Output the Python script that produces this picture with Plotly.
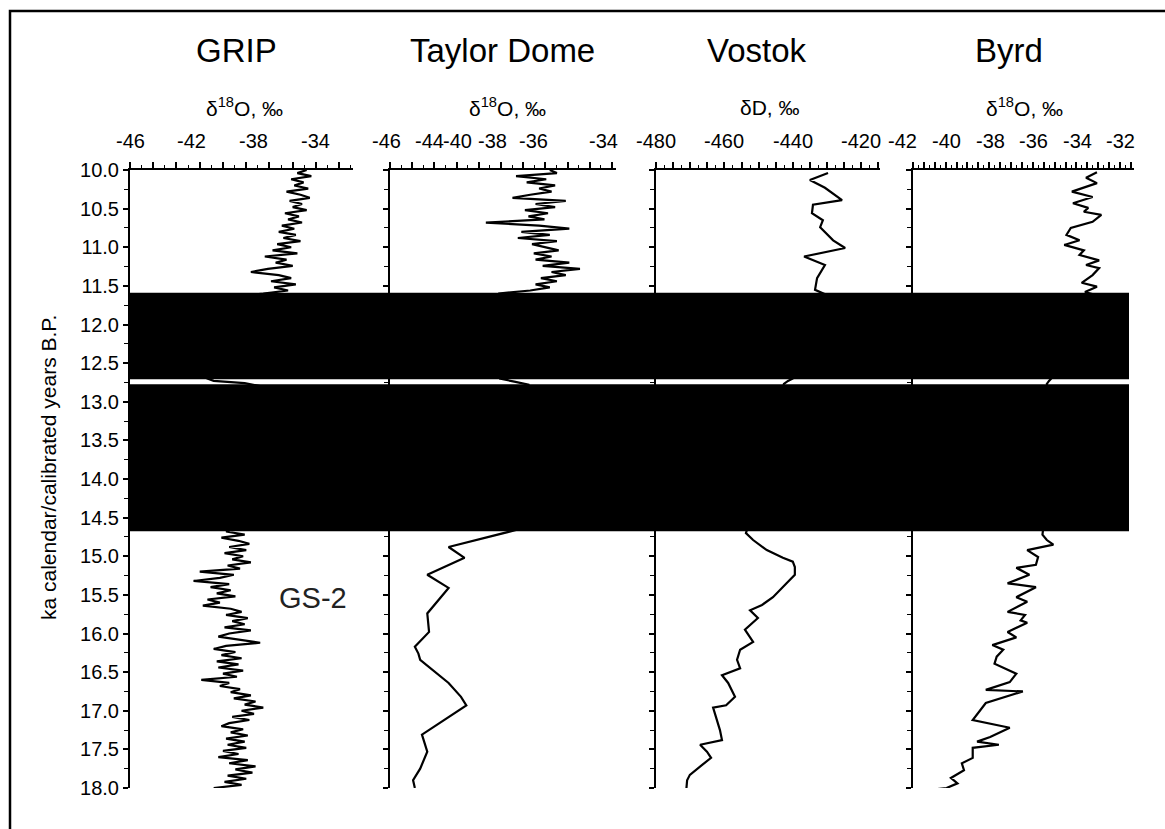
import plotly.graph_objects as go

# ---------------- data ----------------
PANELS = ["GRIP", "Taylor Dome", "Vostok", "Byrd"]
UNITS = ["δ<sup>18</sup>O, ‰", "δ<sup>18</sup>O, ‰", "δD, ‰", "δ<sup>18</sup>O, ‰"]

GRIP_AGE = [10.00, 10.04, 10.08, 10.12, 10.16, 10.20, 10.24, 10.28, 10.32, 10.36,
            10.40, 10.44, 10.48, 10.52, 10.56, 10.60, 10.64, 10.68, 10.72, 10.76,
            10.80, 10.84, 10.88, 10.92, 10.96, 11.00, 11.04, 11.08, 11.12, 11.16,
            11.20, 11.24, 11.28, 11.32, 11.36, 11.40, 11.44, 11.48, 11.52, 11.56,
            11.60,
            11.64, 11.80, 12.00, 12.20, 12.40, 12.60, 12.70, 12.73, 12.76, 12.80,
            13.20, 13.60, 14.00, 14.40, 14.64,
            14.68, 14.72, 14.76, 14.80, 14.84, 14.88, 14.92, 14.96, 15.00, 15.04,
            15.08, 15.12, 15.16, 15.20, 15.24, 15.28, 15.32, 15.36, 15.40, 15.44,
            15.48, 15.52, 15.56, 15.60, 15.64, 15.68, 15.72, 15.76, 15.80, 15.84,
            15.88, 15.92, 15.96, 16.00, 16.04, 16.08, 16.12, 16.16, 16.20, 16.24,
            16.28, 16.32, 16.36, 16.40, 16.44, 16.48, 16.52, 16.56, 16.60, 16.64,
            16.68, 16.72, 16.76, 16.80, 16.84, 16.88, 16.92, 16.96, 17.00, 17.04,
            17.08, 17.12, 17.16, 17.20, 17.24, 17.28, 17.32, 17.36, 17.40, 17.44,
            17.48, 17.52, 17.56, 17.60, 17.64, 17.68, 17.72, 17.76, 17.80, 17.84,
            17.88, 17.92, 17.96, 18.00]
GRIP_D18O = [-34.6, -35.2, -34.3, -35.6, -34.8, -35.4, -34.5, -35.9, -35.0, -34.4,
             -35.7, -34.9, -35.5, -34.6, -36.0, -35.1, -35.8, -34.9, -36.2, -35.4,
             -36.4, -35.3, -36.1, -35.0, -36.5, -35.6, -36.8, -35.2, -37.3, -35.9,
             -36.6, -35.5, -37.1, -38.2, -36.4, -35.6, -36.9, -35.3, -36.7, -35.8,
             -37.4,
             -39.5, -40.6, -40.2, -40.8, -40.3, -40.9, -41.0, -40.6, -38.6, -37.5,
             -37.8, -38.0, -38.4, -38.9, -39.3,
             -39.8, -38.6, -40.1, -39.0, -38.3, -39.6, -38.5, -39.9, -38.7, -39.4,
             -38.2, -39.7, -38.9, -41.5, -39.3, -40.2, -41.9, -39.6, -40.8, -39.5,
             -40.4, -39.2, -41.0, -40.2, -41.3, -39.5, -38.8, -39.8, -38.4, -39.4,
             -38.6, -39.9, -38.2, -39.6, -40.3, -38.9, -37.6, -39.8, -40.6, -39.2,
             -40.1, -38.8, -40.4, -39.0, -40.3, -38.7, -40.0, -39.1, -41.4, -39.6,
             -40.2, -38.9, -39.5, -38.2, -39.3, -37.9, -38.6, -37.4, -38.8, -38.0,
             -39.4, -38.3, -39.6, -40.1, -38.7, -39.5, -38.4, -39.8, -38.6, -39.7,
             -38.5, -40.0, -39.0, -40.3, -38.4, -39.6, -37.9, -39.2, -38.1, -39.7,
             -38.5, -39.9, -38.8, -40.6]

TAYLOR_AGE = [10.00, 10.04, 10.08, 10.12, 10.16, 10.20, 10.24, 10.28, 10.32, 10.36,
              10.40, 10.44, 10.48, 10.52, 10.56, 10.60, 10.64, 10.68, 10.72, 10.76,
              10.80, 10.84, 10.88, 10.92, 10.96, 11.00, 11.04, 11.08, 11.12, 11.16,
              11.20, 11.24, 11.28, 11.32, 11.36, 11.40, 11.44, 11.48, 11.52, 11.56,
              11.60,
              11.64, 12.00, 12.40, 12.70, 12.74, 12.78, 13.20, 13.80, 14.30, 14.64,
              14.66, 14.88, 15.02, 15.24, 15.41, 15.74, 15.98, 16.17, 16.26, 16.34,
              16.64, 16.82, 16.93, 17.31, 17.53, 17.75, 17.90, 18.00]
TAYLOR_D18O = [-37.0, -36.6, -38.9, -37.2, -38.3, -36.7, -37.6, -36.9, -38.1, -39.1,
               -36.1, -37.8, -36.7, -38.4, -37.1, -38.2, -37.3, -40.6, -37.6, -35.9,
               -38.6, -37.0, -38.8, -36.6, -38.0, -37.2, -36.5, -37.9, -36.9, -37.8,
               -35.9, -37.4, -35.3, -36.9, -36.1, -37.5, -36.6, -37.8, -37.0, -38.1,
               -39.9,
               -39.5, -40.0, -39.8, -39.8, -39.0, -38.2, -38.0, -38.5, -39.0, -39.6,
               -38.9, -42.7, -41.8, -43.9, -42.7, -43.9, -43.8, -44.6, -44.4, -44.3,
               -42.7, -42.0, -41.7, -44.2, -43.9, -44.3, -44.7, -44.6]

VOSTOK_AGE = [10.04, 10.13, 10.23, 10.39, 10.45, 10.56, 10.65, 10.74, 10.91, 11.01,
              11.12, 11.23, 11.40, 11.55, 11.62,
              12.00, 12.40, 12.70, 12.73, 12.77, 13.20, 13.80, 14.30,
              14.70, 14.79, 14.92, 15.02, 15.07, 15.14, 15.24, 15.33, 15.53, 15.63,
              15.70, 15.80, 15.95, 16.11, 16.21, 16.34, 16.45, 16.54, 16.64, 16.82,
              16.93, 16.96, 17.12, 17.25, 17.38, 17.44, 17.53, 17.61, 17.70, 17.83,
              17.90, 18.00]
VOSTOK_DD = [-429.7, -435.0, -430.6, -425.6, -434.1, -434.4, -431.2, -432.0, -428.2, -424.7,
             -436.7, -430.6, -432.9, -433.5, -430.0,
             -434.0, -437.5, -440.0, -441.4, -442.6, -445.0, -448.0, -451.0,
             -453.7, -451.6, -447.6, -442.9, -440.0, -439.4, -439.4, -441.4, -445.8, -449.0,
             -452.5, -450.2, -454.0, -451.6, -455.4, -456.3, -455.4, -460.7, -458.9, -456.9,
             -459.5, -463.3, -462.2, -461.3, -460.7, -467.1, -465.1, -463.9, -466.5, -470.1,
             -470.9, -471.1]

BYRD_AGE = [10.03, 10.10, 10.17, 10.28, 10.35, 10.43, 10.49, 10.54, 10.58, 10.67,
            10.75, 10.84, 10.91, 10.97, 11.04, 11.10, 11.17, 11.23, 11.27, 11.36,
            11.46, 11.51, 11.58, 11.63,
            12.00, 12.40, 12.70, 12.73, 12.77, 13.30, 14.00, 14.50,
            14.72, 14.79, 14.85, 14.92, 15.01, 15.11, 15.15, 15.24, 15.35, 15.40,
            15.53, 15.59, 15.72, 15.76, 15.83, 15.86, 15.98, 16.05, 16.15, 16.21,
            16.30, 16.39, 16.52, 16.63, 16.73, 16.75, 16.90, 17.12, 17.22, 17.34,
            17.40, 17.44, 17.48, 17.61, 17.68, 17.77, 17.87, 17.94, 18.00, 18.02]
BYRD_D18O = [-33.1, -33.6, -33.1, -34.25, -33.3, -34.2, -33.5, -33.7, -32.9, -33.3,
             -34.3, -34.5, -33.9, -34.6, -33.7, -33.9, -33.0, -33.6, -33.0, -33.3,
             -33.8, -33.1, -33.65, -33.0,
             -33.8, -34.6, -35.2, -35.3, -35.4, -35.0, -35.3, -35.5,
             -35.6, -35.4, -35.1, -36.3, -35.8, -35.9, -36.8, -36.2, -37.2, -35.9,
             -36.8, -36.3, -37.2, -36.4, -36.6, -36.3, -37.2, -36.8, -37.9, -37.4,
             -37.7, -37.8, -36.8, -37.1, -38.2, -36.5, -38.2, -38.8, -37.1, -38.0,
             -38.6, -37.6, -38.8, -38.8, -39.3, -39.2, -39.8, -39.5, -40.0, -40.6]

GRIP_TICKS = [-46, -42, -38, -34]
TAYLOR_TICK_TEXT = ["-46", "-44", "-40", "-38", "-36", "-34"]
VOSTOK_TICKS = [-480, -460, -440, -420]
BYRD_TICKS = [-42, -40, -38, -36, -34, -32]

# stadial/interstadial bands (ka)
BANDS = [(11.59, 12.71), (12.775, 14.675)]
AGE_RANGE = [18.0, 10.0]

# ---------------- layout helpers ----------------
W, H = 1165, 829
FONT = "Liberation Sans, Arial, Helvetica, sans-serif"


def px(p):
    return p / W


def py(p):
    return 1 - p / H


# placement of the misaligned Taylor Dome labels (in the panel's x units)
TAYLOR_TICK_POS = [-46.17, -43.75, -42.17, -40.2, -37.94, -34.0]

panel_px = [(130, 353), (390, 616), (656, 880), (913, 1134)]
x_ranges = [[-46, -31.61], [-46, -33.27], [-480, -414.5], [-41.54, -31.4]]
x_dtick = [1.5, 1.25, 5, 0.5]
title_cx = [236, 502, 757, 1009]
unit_cx = [244, 507, 770, 1024]

series = [(GRIP_AGE, GRIP_D18O), (TAYLOR_AGE, TAYLOR_D18O),
          (VOSTOK_AGE, VOSTOK_DD), (BYRD_AGE, BYRD_D18O)]

fig = go.Figure()
ydom = [py(788), py(170)]
annotations = []
layout = {}

for i in range(4):
    xs = "" if i == 0 else str(i + 1)
    ages, vals = series[i]
    fig.add_trace(go.Scatter(x=vals, y=ages, mode="lines",
                             line=dict(color="black", width=2.2),
                             xaxis="x" + xs, yaxis="y" + xs,
                             showlegend=False, hoverinfo="skip"))
    x0, x1 = panel_px[i]
    layout["xaxis" + xs] = dict(
        domain=[px(x0), px(x1)], range=x_ranges[i], side="top",
        anchor="y" + xs, showline=True, linecolor="black", linewidth=2,
        ticks="outside", ticklen=6, tickwidth=1.5, tickcolor="black",
        tick0=x_ranges[i][0], dtick=x_dtick[i],
        minor=dict(ticks="outside", ticklen=3, tickwidth=1.2, tickcolor="black",
                   tick0=x_ranges[i][0], dtick=x_dtick[i] / 2),
        showticklabels=False, showgrid=False, zeroline=False, fixedrange=True,
        automargin=False)
    layout["yaxis" + xs] = dict(
        domain=ydom, range=AGE_RANGE, anchor="x" + xs,
        showline=True, linecolor="black", linewidth=2,
        ticks="outside", ticklen=5, tickwidth=1.5, tickcolor="black",
        tick0=10, dtick=0.5,
        minor=dict(ticks="outside", ticklen=4, tickwidth=1.2, tickcolor="black",
                   tick0=10, dtick=0.25),
        showticklabels=(i == 0), tickformat=".1f",
        tickfont=dict(family=FONT, size=20, color="black"),
        showgrid=False, zeroline=False, fixedrange=True, automargin=False)
    annotations.append(dict(text=PANELS[i], x=px(title_cx[i]), y=py(50),
                            xref="paper", yref="paper", showarrow=False,
                            xanchor="center", yanchor="middle",
                            font=dict(family=FONT, size=33, color="black")))
    annotations.append(dict(text=UNITS[i], x=px(unit_cx[i]), y=py(107),
                            xref="paper", yref="paper", showarrow=False,
                            xanchor="center", yanchor="middle",
                            font=dict(family=FONT, size=21, color="black")))

# top tick labels (positioned with each panel's own linear x scale)
label_sets = [
    (0, GRIP_TICKS, [str(v) for v in GRIP_TICKS]),
    (1, TAYLOR_TICK_POS, TAYLOR_TICK_TEXT),
    (2, VOSTOK_TICKS, [str(v) for v in VOSTOK_TICKS]),
    (3, BYRD_TICKS, [str(v) for v in BYRD_TICKS]),
]
for i, poss, texts in label_sets:
    x0, x1 = panel_px[i]
    r0, r1 = x_ranges[i]
    for p, t in zip(poss, texts):
        xp = x0 + (p - r0) / (r1 - r0) * (x1 - x0)
        annotations.append(dict(text=t, x=px(xp), xref="paper", y=py(141), yref="paper",
                                showarrow=False, xanchor="center", yanchor="middle",
                                font=dict(family=FONT, size=20, color="black")))

annotations.append(dict(text="ka calendar/calibrated years B.P.", x=px(48), y=py(468),
                        xref="paper", yref="paper", showarrow=False, textangle=-90,
                        xanchor="center", yanchor="middle",
                        font=dict(family=FONT, size=21, color="black")))
annotations.append(dict(text="GS-2", x=px(313), y=py(598), xref="paper", yref="paper",
                        showarrow=False, xanchor="center", yanchor="middle",
                        font=dict(family=FONT, size=29, color="#222222")))

shapes = []
for (a, b) in BANDS:
    shapes.append(dict(type="rect", xref="paper", yref="y", x0=px(130), x1=px(1129),
                       y0=a, y1=b, fillcolor="black", line=dict(width=0), layer="above"))
shapes.append(dict(type="rect", xref="paper", yref="paper", x0=px(10), x1=px(1180),
                   y0=py(845), y1=py(11), line=dict(color="black", width=2.5),
                   fillcolor="rgba(0,0,0,0)", layer="above"))

fig.update_layout(width=W, height=H,
                  margin=dict(l=0, r=0, t=0, b=0, pad=0, autoexpand=False),
                  paper_bgcolor="white", plot_bgcolor="white",
                  annotations=annotations, shapes=shapes, showlegend=False,
                  font=dict(family=FONT, color="black"), **layout)

fig.write_html("out.html",
               post_script="document.body.style.margin='0';"
                           "document.body.style.overflow='hidden';")
